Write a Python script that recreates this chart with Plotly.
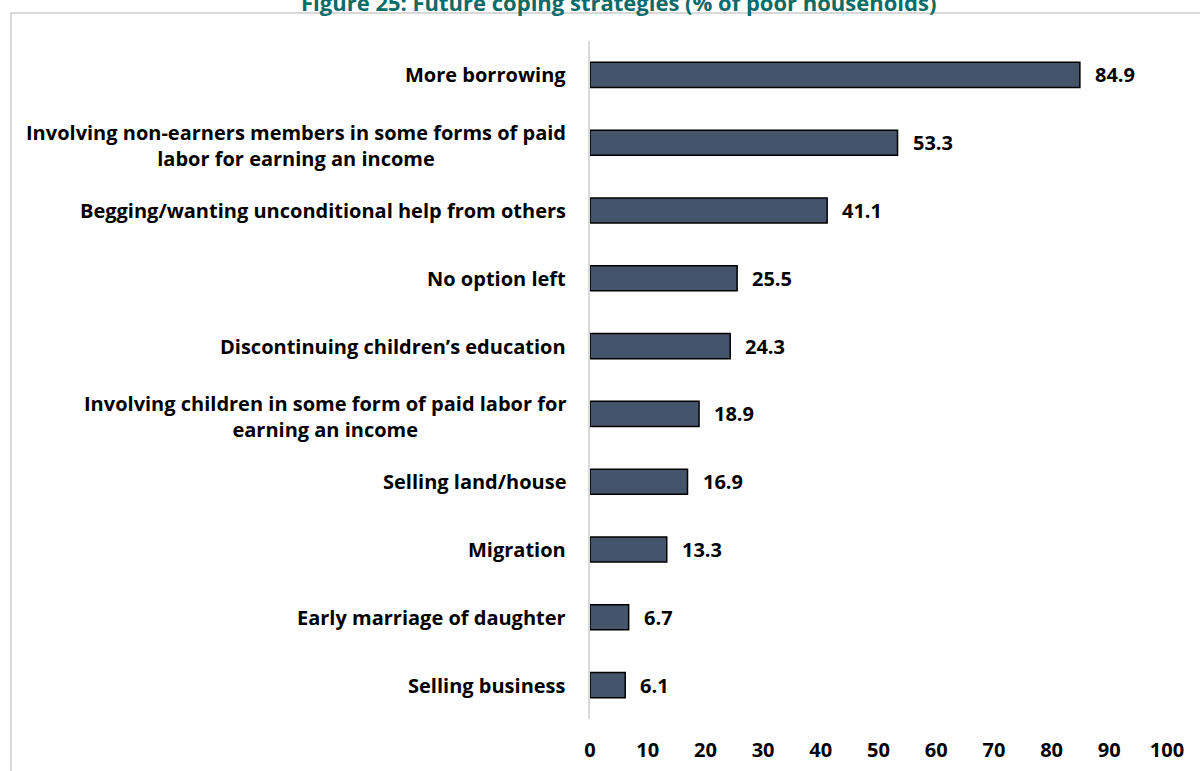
import plotly.graph_objects as go

# Coping strategies and share of poor households (%)
strategies = [
    "More borrowing",
    "Involving non-earners members in some forms of paid<br>labor for earning an income",
    "Begging/wanting unconditional help from others",
    "No option left",
    "Discontinuing children’s education",
    "Involving children in some form of paid labor for<br>earning an income",
    "Selling land/house",
    "Migration",
    "Early marriage of daughter",
    "Selling business",
]
shares = [84.9, 53.3, 41.1, 25.5, 24.3, 18.9, 16.9, 13.3, 6.7, 6.1]
x_ticks = [0, 10, 20, 30, 40, 50, 60, 70, 80, 90, 100]
title_text = "Figure 25: Future coping strategies (% of poor households)"

FONT = "Open Sans"
W, H = 1200, 771
ML, MR, MT, MB = 590, 33, 41, 52
PW, PH = W - ML - MR, H - MT - MB


def px_to_paper_x(px):
    return (px - ML) / PW


def px_to_paper_y(py):
    return 1 - (py - MT) / PH


fig = go.Figure()
fig.add_trace(go.Bar(
    x=shares,
    y=list(range(len(strategies))),
    orientation="h",
    width=0.37,
    marker=dict(color="#44546A", line=dict(color="#000000", width=1.5)),
    hoverinfo="skip",
))

annotations = []
# value labels to the right of each bar
for i, v in enumerate(shares):
    annotations.append(dict(
        x=v, y=i, xref="x", yref="y", text=f"{v:.1f}",
        showarrow=False, xanchor="left", yanchor="middle", xshift=13,
        font=dict(family=FONT, size=20, color="#000000", weight="bold"),
    ))

# category labels: wrapped lines centred, block right-aligned beside the axis
label_font = dict(family=FONT, size=20, color="#000000", weight="bold")
for i, s in enumerate(strategies):
    wrapped = "<br>" in s
    annotations.append(dict(
        x=px_to_paper_x(568), y=i, xref="paper", yref="y", text=s,
        showarrow=False, xanchor="right", yanchor="middle", align="center",
        yshift=-3 if wrapped else 0,
        font=label_font,
    ))

# chart title
annotations.append(dict(
    x=px_to_paper_x(618), y=px_to_paper_y(2), xref="paper", yref="paper",
    text=title_text, showarrow=False, xanchor="center", yanchor="middle",
    font=dict(family=FONT, size=22, color="#0B6B68", weight="bold"),
))

fig.update_layout(
    width=W, height=H,
    margin=dict(l=ML, r=MR, t=MT, b=MB, pad=0, autoexpand=False),
    paper_bgcolor="white", plot_bgcolor="white",
    showlegend=False,
    annotations=annotations,
    shapes=[dict(
        type="rect", xref="paper", yref="paper",
        x0=px_to_paper_x(11), x1=px_to_paper_x(1215),
        y0=px_to_paper_y(790), y1=px_to_paper_y(13),
        line=dict(color="#D9D9D9", width=2), fillcolor="rgba(0,0,0,0)",
        layer="below",
    )],
    xaxis=dict(
        range=[0, 100], tickvals=x_ticks, ticktext=[str(t) for t in x_ticks],
        showgrid=False, zeroline=False, showline=False, ticks="",
        ticklabelstandoff=17, automargin=False,
        tickfont=dict(family=FONT, size=20, color="#000000", weight="bold"),
        fixedrange=True,
    ),
    yaxis=dict(
        range=[len(strategies) - 0.5, -0.5], automargin=False,
        showticklabels=False, showgrid=False, zeroline=False,
        showline=True, linecolor="#D9D9D9", linewidth=2, ticks="",
        fixedrange=True,
    ),
)

fig.write_html("out.html")
